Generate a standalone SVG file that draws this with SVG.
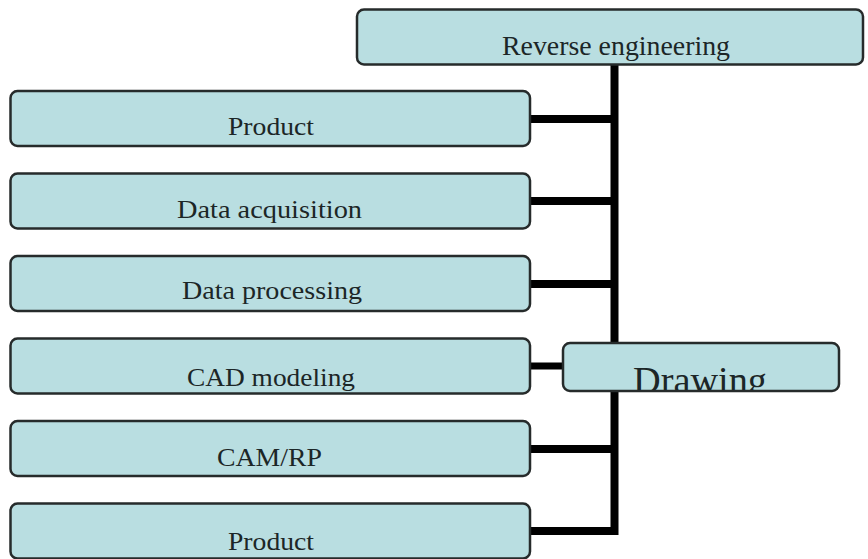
<svg xmlns="http://www.w3.org/2000/svg" width="868" height="559" viewBox="0 0 868 559">
<style>
.box{fill:#b9dee1;stroke:#262b2b;stroke-width:2.5}
.lbl{font-family:"Liberation Serif","Times New Roman",serif;font-size:26px;fill:#1c2627}
.con{stroke:#000;stroke-width:8;fill:none}
</style>
<defs>
<clipPath id="clipDrawing"><rect x="563" y="343" width="276" height="47"/></clipPath>
</defs>
<rect x="0" y="0" width="868" height="559" fill="#ffffff"/>
<g id="connectors">
<line class="con" x1="614.5" y1="64" x2="614.5" y2="535"/>
<line class="con" x1="530" y1="119" x2="618" y2="119"/>
<line class="con" x1="530" y1="201" x2="618" y2="201"/>
<line class="con" x1="530" y1="284" x2="618" y2="284"/>
<line class="con" x1="530" y1="366" x2="564" y2="366" style="stroke-width:7"/>
<line class="con" x1="530" y1="449" x2="618" y2="449"/>
<line class="con" x1="530" y1="531" x2="618" y2="531"/>
</g>
<g id="reverse-engineering">
<rect class="box" x="357" y="9.5" width="506" height="55" rx="7"/>
<text class="lbl" x="502" y="55" textLength="228" lengthAdjust="spacingAndGlyphs" style="font-size:27px">Reverse engineering</text>
</g>
<g id="product-1">
<rect class="box" x="10.5" y="91" width="519.5" height="55" rx="7"/>
<text class="lbl" x="228" y="135" textLength="86" lengthAdjust="spacingAndGlyphs">Product</text>
</g>
<g id="data-acquisition">
<rect class="box" x="10.5" y="173.5" width="519.5" height="55" rx="7"/>
<text class="lbl" x="177" y="218" textLength="185" lengthAdjust="spacingAndGlyphs">Data acquisition</text>
</g>
<g id="data-processing">
<rect class="box" x="10.5" y="256" width="519.5" height="55" rx="7"/>
<text class="lbl" x="182" y="299" textLength="180" lengthAdjust="spacingAndGlyphs">Data processing</text>
</g>
<g id="cad-modeling">
<rect class="box" x="10.5" y="338.5" width="519.5" height="55" rx="7"/>
<text class="lbl" x="187" y="386" textLength="168" lengthAdjust="spacingAndGlyphs">CAD modeling</text>
</g>
<g id="cam-rp">
<rect class="box" x="10.5" y="421" width="519.5" height="55" rx="7"/>
<text class="lbl" x="217" y="466" textLength="105" lengthAdjust="spacingAndGlyphs">CAM/RP</text>
</g>
<g id="product-2">
<rect class="box" x="10.5" y="503.5" width="519.5" height="55" rx="7"/>
<text class="lbl" x="228" y="550" textLength="86" lengthAdjust="spacingAndGlyphs">Product</text>
</g>
<g id="drawing">
<rect class="box" x="563" y="343" width="276" height="48" rx="7"/>
<text class="lbl" x="633" y="393" textLength="134" lengthAdjust="spacingAndGlyphs" clip-path="url(#clipDrawing)" style="font-size:38px">Drawing</text>
</g>
</svg>
